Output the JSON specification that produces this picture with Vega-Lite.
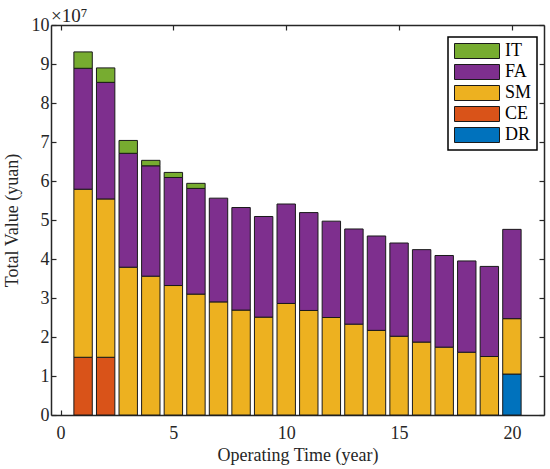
{
  "$schema": "https://vega.github.io/schema/vega-lite/v6.json",
  "width": 493,
  "height": 390,
  "autosize": "none",
  "padding": {"left": 51, "top": 25, "right": 6, "bottom": 54},
  "background": "white",
  "title": {
    "text": "×10⁷",
    "anchor": "start",
    "frame": "group",
    "fontSize": 19,
    "fontWeight": "normal",
    "offset": -10,
    "color": "#262626"
  },
  "data": {
    "values": [
      {"year": 1, "part": "CE", "value": 14800000},
      {"year": 1, "part": "SM", "value": 43100000},
      {"year": 1, "part": "FA", "value": 31000000},
      {"year": 1, "part": "IT", "value": 4200000},
      {"year": 2, "part": "CE", "value": 14800000},
      {"year": 2, "part": "SM", "value": 40600000},
      {"year": 2, "part": "FA", "value": 29900000},
      {"year": 2, "part": "IT", "value": 3700000},
      {"year": 3, "part": "SM", "value": 37900000},
      {"year": 3, "part": "FA", "value": 29200000},
      {"year": 3, "part": "IT", "value": 3300000},
      {"year": 4, "part": "SM", "value": 35600000},
      {"year": 4, "part": "FA", "value": 28300000},
      {"year": 4, "part": "IT", "value": 1400000},
      {"year": 5, "part": "SM", "value": 33200000},
      {"year": 5, "part": "FA", "value": 27700000},
      {"year": 5, "part": "IT", "value": 1300000},
      {"year": 6, "part": "SM", "value": 31000000},
      {"year": 6, "part": "FA", "value": 27100000},
      {"year": 6, "part": "IT", "value": 1300000},
      {"year": 7, "part": "SM", "value": 29000000},
      {"year": 7, "part": "FA", "value": 26600000},
      {"year": 8, "part": "SM", "value": 26900000},
      {"year": 8, "part": "FA", "value": 26300000},
      {"year": 9, "part": "SM", "value": 25100000},
      {"year": 9, "part": "FA", "value": 25800000},
      {"year": 10, "part": "SM", "value": 28600000},
      {"year": 10, "part": "FA", "value": 25500000},
      {"year": 11, "part": "SM", "value": 26800000},
      {"year": 11, "part": "FA", "value": 25100000},
      {"year": 12, "part": "SM", "value": 25000000},
      {"year": 12, "part": "FA", "value": 24700000},
      {"year": 13, "part": "SM", "value": 23300000},
      {"year": 13, "part": "FA", "value": 24400000},
      {"year": 14, "part": "SM", "value": 21700000},
      {"year": 14, "part": "FA", "value": 24200000},
      {"year": 15, "part": "SM", "value": 20200000},
      {"year": 15, "part": "FA", "value": 23900000},
      {"year": 16, "part": "SM", "value": 18700000},
      {"year": 16, "part": "FA", "value": 23700000},
      {"year": 17, "part": "SM", "value": 17400000},
      {"year": 17, "part": "FA", "value": 23500000},
      {"year": 18, "part": "SM", "value": 16100000},
      {"year": 18, "part": "FA", "value": 23400000},
      {"year": 19, "part": "SM", "value": 15000000},
      {"year": 19, "part": "FA", "value": 23100000},
      {"year": 20, "part": "DR", "value": 10500000},
      {"year": 20, "part": "SM", "value": 14200000},
      {"year": 20, "part": "FA", "value": 22900000}
    ]
  },
  "layer": [
    {
      "transform": [
        {"calculate": "indexof(['DR', 'CE', 'SM', 'FA', 'IT'], datum.part)", "as": "stack_rank"}
      ],
      "mark": {"type": "bar", "size": 18.4, "stroke": "#1a1a1a", "strokeWidth": 1},
      "encoding": {
        "x": {
          "field": "year",
          "type": "quantitative",
          "scale": {"domain": [-0.2, 21.2], "nice": false, "zero": false},
          "axis": {
            "title": "Operating Time (year)",
            "values": [0, 5, 10, 15, 20],
            "labelPadding": 14,
            "titlePadding": 4
          }
        },
        "y": {
          "field": "value",
          "type": "quantitative",
          "stack": "zero",
          "scale": {"domain": [0, 100000000], "nice": false},
          "axis": {
            "title": "Total Value (yuan)",
            "values": [0, 10000000, 20000000, 30000000, 40000000, 50000000, 60000000, 70000000, 80000000, 90000000, 100000000],
            "labelExpr": "datum.value / 10000000",
            "labelPadding": 7,
            "titlePadding": 10
          }
        },
        "order": {"field": "stack_rank", "type": "quantitative", "sort": "ascending"},
        "color": {
          "field": "part",
          "type": "nominal",
          "scale": {
            "domain": ["IT", "FA", "SM", "CE", "DR"],
            "range": ["#77AC30", "#7E2F8E", "#EDB120", "#D95319", "#0072BD"]
          },
          "legend": {
            "orient": "none",
            "legendX": 397,
            "legendY": 12,
            "title": null,
            "symbolType": "M-1,-1H5V1H-1Z",
            "symbolSize": 225,
            "symbolStrokeColor": "#1a1a1a",
            "symbolStrokeWidth": 1,
            "symbolOpacity": 1,
            "labelFontSize": 18,
            "labelColor": "black",
            "labelOffset": 34,
            "rowPadding": 1,
            "padding": 5,
            "fillColor": "white",
            "strokeColor": "black",
            "encode": {"legend": {"update": {"strokeWidth": {"value": 1.5}}}}
          }
        }
      }
    },
    {
      "mark": {"type": "point", "opacity": 0},
      "encoding": {
        "x": {
          "field": "year",
          "type": "quantitative",
          "axis": {"orient": "top", "labels": false, "title": null, "values": [0, 5, 10, 15, 20]}
        },
        "y": {
          "field": "value",
          "type": "quantitative",
          "stack": null,
          "axis": {
            "orient": "right",
            "labels": false,
            "title": null,
            "values": [0, 10000000, 20000000, 30000000, 40000000, 50000000, 60000000, 70000000, 80000000, 90000000, 100000000]
          }
        }
      }
    }
  ],
  "resolve": {"axis": {"x": "independent", "y": "independent"}},
  "config": {
    "font": "Liberation Serif",
    "view": {"stroke": null},
    "axis": {
      "grid": false,
      "tickSize": -5,
      "tickWidth": 1.2,
      "tickColor": "#262626",
      "domainColor": "#262626",
      "domainWidth": 1.5,
      "labelFontSize": 18,
      "labelColor": "#262626",
      "labelFont": "Liberation Serif",
      "titleFontSize": 18,
      "titleFontWeight": "normal",
      "titleColor": "#262626",
      "titleFont": "Liberation Serif"
    }
  }
}
